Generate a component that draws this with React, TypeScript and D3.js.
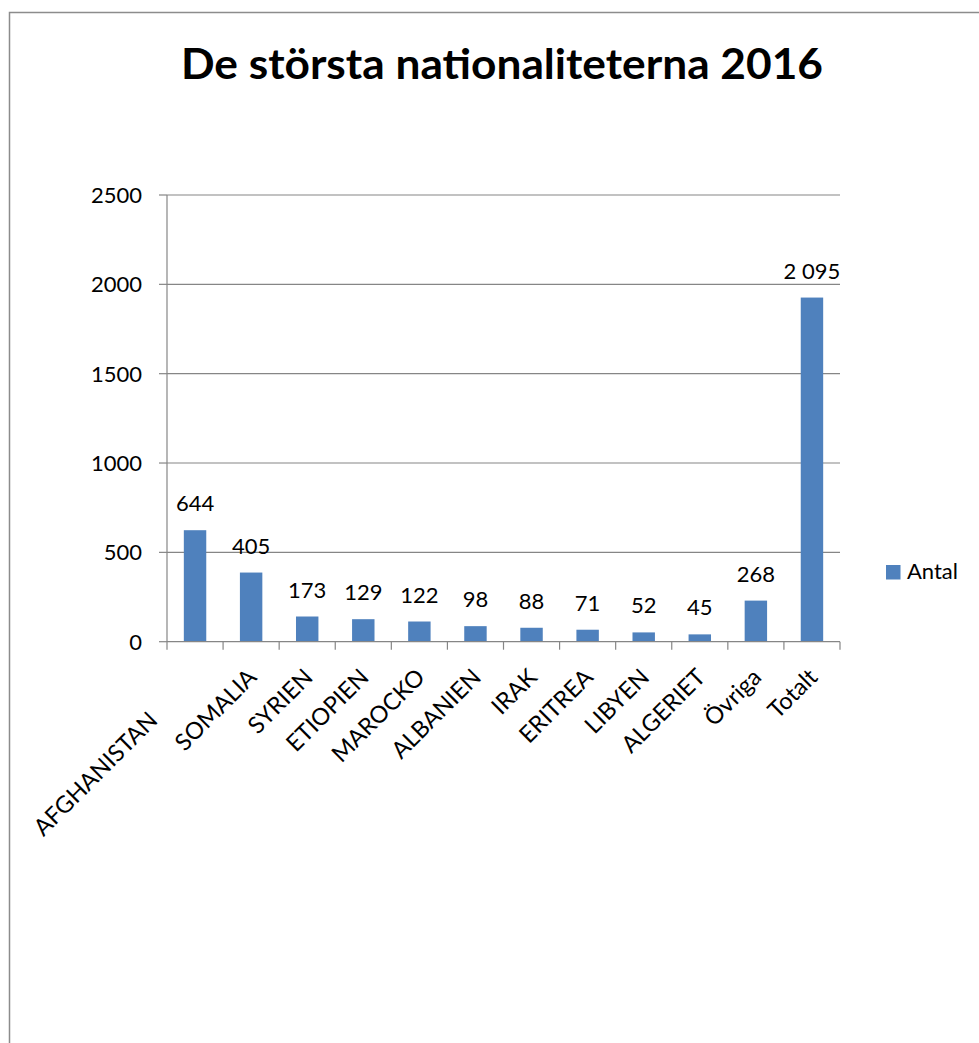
import React from "react";
import * as d3 from "d3";

const categories = ["AFGHANISTAN","SOMALIA","SYRIEN","ETIOPIEN","MAROCKO","ALBANIEN","IRAK","ERITREA","LIBYEN","ALGERIET","Övriga","Totalt"];
const barValues = [624, 387, 141, 126, 113, 87, 78, 67, 52, 41, 230, 1926];
const dataLabels = ["644","405","173","129","122","98","88","71","52","45","268","2 095"];
const yTicks = [0, 500, 1000, 1500, 2000, 2500];
const title = "De största nationaliteterna 2016";
const seriesName = "Antal";

const W = 979, H = 1043;
const left = 167, right = 840, top = 195, bottom = 641.7;
const font = "Lato, 'Open Sans', sans-serif";
const gridColor = "#868686";
const barColor = "#4F81BD";

export default function App() {
  const x = d3.scaleBand<string>().domain(categories).range([left, right]).paddingInner(0.6).paddingOuter(0.3);
  const y = d3.scaleLinear().domain([0, 2500]).range([bottom, top]);
  const step = x.step();
  const x0 = left;
  return (
    <svg width={W} height={H} style={{ position: "absolute", left: 0, top: 0 }} fontFamily={font}>
      <rect x={0} y={0} width={W} height={H} fill="#fff" />
      <rect x={9.5} y={12.5} width={W + 10} height={H + 10} fill="none" stroke="#8c8c8c" strokeWidth={1.5} />
      <text x={502} y={79} textAnchor="middle" fontSize={42} fontWeight="bold" fill="#000" textLength={642} lengthAdjust="spacingAndGlyphs">{title}</text>
      {yTicks.map((t) => (
        <g key={t}>
          {t > 0 && <line x1={left} x2={right} y1={y(t)} y2={y(t)} stroke={gridColor} strokeWidth={1.2} />}
          <line x1={left - 8} x2={left} y1={y(t)} y2={y(t)} stroke={gridColor} strokeWidth={1.2} />
          <text x={142} y={y(t) + 8} textAnchor="end" fontSize={22} fill="#000">{t}</text>
        </g>
      ))}
      {barValues.map((v, i) => (
        <rect key={i} x={x(categories[i])} y={y(v)} width={x.bandwidth()} height={y(0) - y(v)} fill={barColor} />
      ))}
      <line x1={left} x2={left} y1={top} y2={bottom} stroke={gridColor} strokeWidth={1.2} />
      <line x1={left} x2={right} y1={bottom} y2={bottom} stroke={gridColor} strokeWidth={1.2} />
      {d3.range(categories.length + 1).map((i) => (
        <line key={i} x1={x0 + i * step} x2={x0 + i * step} y1={bottom} y2={bottom + 8} stroke={gridColor} strokeWidth={1.2} />
      ))}
      {barValues.map((v, i) => (
        <text key={i} x={(x(categories[i]) as number) + x.bandwidth() / 2} y={y(v) - 19} textAnchor="middle" fontSize={22} fill="#000">{dataLabels[i]}</text>
      ))}
      {categories.map((c, i) => {
        const shift = i === 0 ? 43 : 0;
        const cx = (x(c) as number) + x.bandwidth() / 2 + 7 - shift;
        const cy = bottom + 37 + shift;
        return (
          <text key={c} x={cx} y={cy} textAnchor="end" fontSize={23.5} fill="#000" transform={`rotate(-45, ${cx}, ${cy})`}>{c}</text>
        );
      })}
      <rect x={886} y={565} width={14.5} height={14.5} fill={barColor} />
      <text x={907} y={579} fontSize={22} fill="#000">{seriesName}</text>
    </svg>
  );
}
